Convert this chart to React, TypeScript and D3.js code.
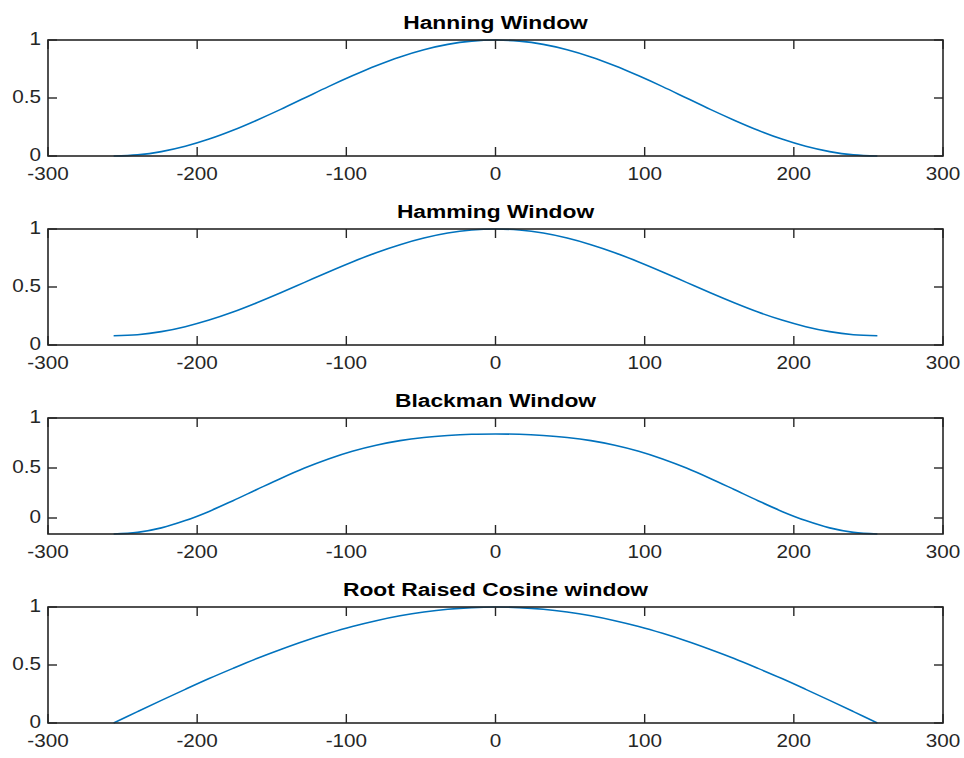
import React from "react";
import * as d3 from "d3";

// sample positions (every 16 samples from -256 to 256)
const sampleX: number[] = [
  -256, -240, -224, -208, -192, -176, -160, -144, -128, -112, -96, -80, -64, -48, -32, -16,
  0, 16, 32, 48, 64, 80, 96, 112, 128, 144, 160, 176, 192, 208, 224, 240, 256,
];

const hanningValues: number[] = [
  0, 0.01, 0.038, 0.084, 0.146, 0.222, 0.309, 0.402, 0.5, 0.598, 0.691, 0.778, 0.854, 0.916, 0.962, 0.99,
  1, 0.99, 0.962, 0.916, 0.854, 0.778, 0.691, 0.598, 0.5, 0.402, 0.309, 0.222, 0.146, 0.084, 0.038, 0.01, 0,
];

const hammingValues: number[] = [
  0.08, 0.089, 0.115, 0.158, 0.215, 0.284, 0.364, 0.45, 0.54, 0.63, 0.716, 0.796, 0.865, 0.922, 0.965, 0.991,
  1, 0.991, 0.965, 0.922, 0.865, 0.796, 0.716, 0.63, 0.54, 0.45, 0.364, 0.284, 0.215, 0.158, 0.115, 0.089, 0.08,
];

const blackmanValues: number[] = [
  -0.16, -0.144, -0.099, -0.026, 0.066, 0.173, 0.285, 0.396, 0.5, 0.591, 0.668, 0.728, 0.774, 0.805, 0.825, 0.837,
  0.84, 0.837, 0.825, 0.805, 0.774, 0.728, 0.668, 0.591, 0.5, 0.396, 0.285, 0.173, 0.066, -0.026, -0.099, -0.144, -0.16,
];

const rrcValues: number[] = [
  0, 0.098, 0.195, 0.29, 0.383, 0.471, 0.556, 0.634, 0.707, 0.773, 0.832, 0.882, 0.924, 0.957, 0.981, 0.995,
  1, 0.995, 0.981, 0.957, 0.924, 0.882, 0.832, 0.773, 0.707, 0.634, 0.556, 0.471, 0.383, 0.29, 0.195, 0.098, 0,
];

const titles: string[] = ["Hanning Window", "Hamming Window", "Blackman Window", "Root Raised Cosine window"];
const xTicks: number[] = [-300, -200, -100, 0, 100, 200, 300];
const yTicks: number[] = [0, 0.5, 1];
const yDomains: [number, number][] = [[0, 1], [0, 1], [-0.16, 1], [0, 1]];
const seriesList: number[][] = [hanningValues, hammingValues, blackmanValues, rrcValues];

const W = 964;
const H = 758;
const left = 48;
const right = 943;
const tops = [40, 229, 418, 607];
const plotH = 116;
const tickLen = 9;
const axisColor = "#262626";
const lineColor = "#0072BD";
const font = "'Liberation Sans', Arial, Helvetica, sans-serif";

function fmt(v: number) {
  return String(v);
}

function Panel({ idx }: { idx: number }) {
  const top = tops[idx];
  const bottom = top + plotH;
  const x = d3.scaleLinear().domain([-300, 300]).range([left, right]);
  const y = d3.scaleLinear().domain(yDomains[idx]).range([bottom, top]);
  const values = seriesList[idx];
  const line = d3
    .line<number>()
    .x((_, i) => x(sampleX[i]))
    .y((d) => y(d))
    .curve(d3.curveCatmullRom);
  return (
    <g>
      <path d={line(values) || ""} fill="none" stroke={lineColor} strokeWidth={1.6} />
      {/* frame */}
      <rect x={left} y={top} width={right - left} height={plotH} fill="none" stroke={axisColor} strokeWidth={1.6} />
      {xTicks.map((t) => (
        <g key={"xt" + t}>
          <line x1={x(t)} x2={x(t)} y1={bottom} y2={bottom - tickLen} stroke={axisColor} strokeWidth={1.4} />
          <line x1={x(t)} x2={x(t)} y1={top} y2={top + tickLen} stroke={axisColor} strokeWidth={1.4} />
          <text
            transform={`translate(${x(t)},${bottom + 24}) scale(1.15,1)`}
            textAnchor="middle"
            fontFamily={font}
            fontSize={18}
            fill={axisColor}
          >
            {fmt(t)}
          </text>
        </g>
      ))}
      {yTicks.map((t) => (
        <g key={"yt" + t}>
          <line x1={left} x2={left + tickLen} y1={y(t)} y2={y(t)} stroke={axisColor} strokeWidth={1.4} />
          <line x1={right} x2={right - tickLen} y1={y(t)} y2={y(t)} stroke={axisColor} strokeWidth={1.4} />
          <text
            transform={`translate(${left - 7},${y(t) + 5}) scale(1.15,1)`}
            textAnchor="end"
            fontFamily={font}
            fontSize={18}
            fill={axisColor}
          >
            {fmt(t)}
          </text>
        </g>
      ))}
      <text
        transform={`translate(${(left + right) / 2},${top - 11}) scale(1.2,1)`}
        textAnchor="middle"
        fontFamily={font}
        fontSize={19}
        fontWeight="bold"
        fill="#000"
      >
        {titles[idx]}
      </text>
    </g>
  );
}

export default function App() {
  return (
    <svg
      width={W}
      height={H}
      style={{ position: "absolute", left: 0, top: 0, background: "#fff" }}
    >
      <rect x={0} y={0} width={W} height={H} fill="#fff" />
      {[0, 1, 2, 3].map((i) => (
        <Panel key={i} idx={i} />
      ))}
    </svg>
  );
}
